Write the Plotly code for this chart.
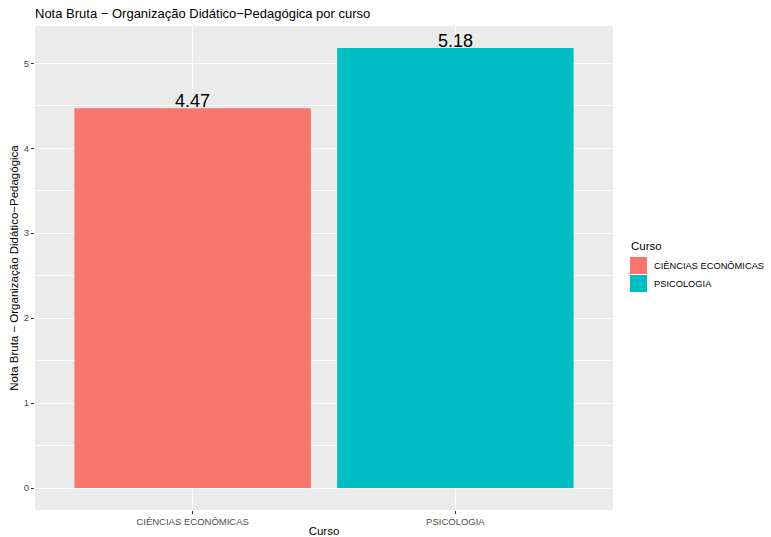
import plotly.graph_objects as go

cursos = ["CIÊNCIAS ECONÔMICAS", "PSICOLOGIA"]
notas = [4.47, 5.18]
cores = ["#F8766D", "#00BFC4"]
y_ticks = [0, 1, 2, 3, 4, 5]

fonte = "Liberation Sans, Arial, sans-serif"

fig = go.Figure()

for curso, nota, cor in zip(cursos, notas, cores):
    fig.add_trace(go.Bar(
        x=[curso],
        y=[nota],
        name=curso,
        width=0.9,
        marker=dict(color=cor, line=dict(width=0)),
        showlegend=False,
    ))
    # rótulo do valor em cima da barra
    fig.add_annotation(
        x=curso, y=nota, text=f"{nota:.2f}",
        showarrow=False, yanchor="bottom", yshift=-4, borderpad=0,
        font=dict(size=18, color="black", family=fonte),
    )

# legenda desenhada à mão (chaves quadradas como no ggplot)
fig.add_annotation(
    xref="paper", yref="paper", x=1.0285, y=(510 - 254) / 484,
    xanchor="left", yanchor="bottom", showarrow=False,
    text="Curso", font=dict(size=11.5, color="black"),
)
for i, (curso, cor) in enumerate(zip(cursos, cores)):
    top = 257 + i * 18
    y0 = (510 - top - 17) / 484
    y1 = (510 - top) / 484
    fig.add_shape(
        type="rect", xref="paper", yref="paper",
        x0=(630 - 35) / 578, x1=(647 - 35) / 578, y0=y0, y1=y1,
        fillcolor=cor, line=dict(width=0),
    )
    fig.add_annotation(
        xref="paper", yref="paper", x=(652 - 35) / 578, y=(y0 + y1) / 2,
        xanchor="left", yanchor="middle", showarrow=False,
        text=curso, font=dict(size=9.3, color="black"),
    )

fig.update_layout(
    width=771,
    height=537,
    barmode="overlay",
    paper_bgcolor="white",
    plot_bgcolor="#EBEBEB",
    font=dict(family=fonte, color="black"),
    margin=dict(l=35, r=158, t=26, b=27, autoexpand=False),
    title=dict(
        text="Nota Bruta − Organização Didático−Pedagógica por curso",
        x=0, xref="paper", xanchor="left",
        y=1 - 13 / 537, yref="container", yanchor="middle",
        font=dict(size=13, color="black"),
    ),
    xaxis=dict(
        title=dict(text="Curso", font=dict(size=11.5, color="black"), standoff=4),
        automargin=False,
        range=[-0.6, 1.6],
        showgrid=True, gridcolor="white", gridwidth=1.1,
        ticks="outside", ticklen=3, tickcolor="#333333",
        tickfont=dict(size=9.5, color="#4D4D4D"),
        zeroline=False,
    ),
    yaxis=dict(
        title=dict(text="Nota Bruta − Organização Didático−Pedagógica",
                   font=dict(size=11.5, color="black"), standoff=2),
        automargin=False,
        range=[-0.259, 5.439],
        tickvals=y_ticks,
        showgrid=True, gridcolor="white", gridwidth=1.1,
        minor=dict(dtick=0.5, tick0=0, showgrid=True, gridcolor="white", gridwidth=0.5),
        ticks="outside", ticklen=3, tickcolor="#333333",
        tickfont=dict(size=9.5, color="#4D4D4D"),
        zeroline=False,
    ),
    showlegend=False,
)

# tira a margem padrão do <body> para a figura começar no canto
fig.write_html("out.html", config={"displayModeBar": False},
               post_script="document.body.style.margin='0';")
